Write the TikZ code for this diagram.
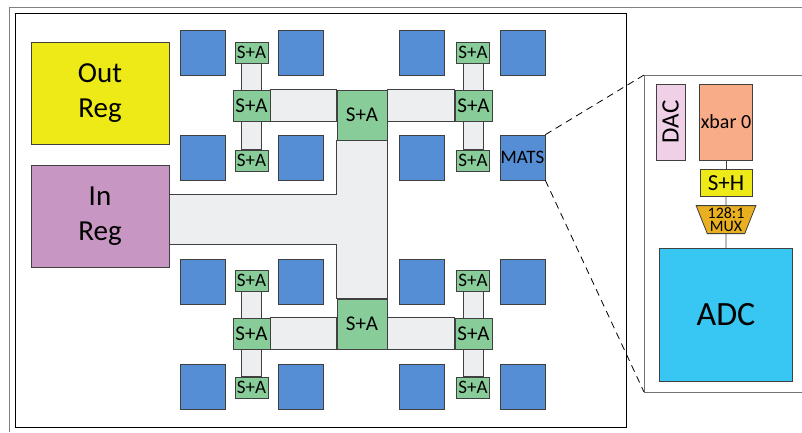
\documentclass[tikz,border=0pt]{standalone}
\usepackage{fontspec}
\setmainfont{Carlito}
\usepackage{tikz}
\usetikzlibrary{positioning, calc, backgrounds, shapes.geometric}
\definecolor{matblue}{RGB}{85,142,213}
\definecolor{sagreen}{RGB}{136,204,153}
\definecolor{busgrey}{RGB}{237,238,240}
\definecolor{regyellow}{RGB}{238,234,24}
\definecolor{regpurple}{RGB}{200,150,195}
\definecolor{dacpink}{RGB}{240,208,230}
\definecolor{xbarsalmon}{RGB}{248,173,136}
\definecolor{muxorange}{RGB}{232,176,32}
\definecolor{adccyan}{RGB}{56,199,242}
\definecolor{edge}{RGB}{64,64,64}

\begin{document}
\begin{tikzpicture}[x=1pt, y=-1pt,
        box/.style={draw=edge, line width=0.8pt, rectangle, inner sep=0pt, align=center},
        mat/.style={box, fill=matblue, minimum width=45pt, minimum height=45pt},
        sasmall/.style={box, fill=sagreen, minimum width=33pt, minimum height=21pt, font=\fontsize{19}{19}\selectfont},
        samid/.style={box, fill=sagreen, minimum width=37pt, minimum height=31pt, font=\fontsize{21}{21}\selectfont},
        sabig/.style={box, fill=sagreen, minimum width=50pt, minimum height=50pt, font=\fontsize{21}{21}\selectfont},
        reg/.style={box, minimum width=138pt, minimum height=102pt, font=\fontsize{29}{35}\selectfont},
        bus/.style={fill=busgrey, draw=edge, line width=0.8pt},
        zoomline/.style={black, line width=0.8pt, dash pattern=on 7pt off 5pt}
    ]
    \useasboundingbox (0,0) rectangle (802,432);

    % tile frame
    \draw[gray, line width=1pt] (802,7.5) -- (9,7.5) -- (9,432);
    \draw[black, line width=0.9pt] (15,13) rectangle (626,427);

    \node[reg, fill=regyellow] (outreg) at (100,93) {Out\\Reg};
    \node[reg, fill=regpurple] (inreg) at (100,216) {In\\Reg};

    % mats
    \node[mat] (m1) at (202.5,52.5) {};
    \node[mat] (m2) at (300.5,52.5) {};
    \node[mat] (m3) at (421.5,52.5) {};
    \node[mat] (m4) at (522.5,52.5) {};
    \node[mat] (m5) at (202.5,157.5) {};
    \node[mat] (m6) at (300.5,157.5) {};
    \node[mat] (m7) at (421.5,157.5) {};
    \node[mat, font=\fontsize{19}{19}\selectfont] (mats) at (522.5,157.5) {MATS};
    \node[mat] (m9) at (202.5,281.5) {};
    \node[mat] (m10) at (300.5,281.5) {};
    \node[mat] (m11) at (421.5,281.5) {};
    \node[mat] (m12) at (522.5,281.5) {};
    \node[mat] (m13) at (202.5,386.5) {};
    \node[mat] (m14) at (300.5,386.5) {};
    \node[mat] (m15) at (421.5,386.5) {};
    \node[mat] (m16) at (522.5,386.5) {};

    % shift and add units
    \node[sasmall] (sa1) at (251.5,52.5) {S+A};
    \node[sasmall] (sa2) at (251.5,160.5) {S+A};
    \node[sasmall] (sa3) at (473,52.5) {S+A};
    \node[sasmall] (sa4) at (473,160.5) {S+A};
    \node[sasmall] (sa5) at (251.5,280.5) {S+A};
    \node[sasmall] (sa6) at (251.5,387.5) {S+A};
    \node[sasmall] (sa7) at (473,280.5) {S+A};
    \node[sasmall] (sa8) at (473,387.5) {S+A};
    \node[samid] (mid1) at (251.5,105.5) {S+A};
    \node[samid] (mid2) at (473.5,105.5) {S+A};
    \node[samid] (mid3) at (251.5,333.5) {S+A};
    \node[samid] (mid4) at (473.5,333.5) {S+A};
    \node[sabig] (big1) at (362,115) {S+A};
    \node[sabig] (big2) at (362,324) {S+A};

    % buses
    \begin{scope}[on background layer]
    \draw[bus] ($(sa1.south)+(-10,0)$) rectangle ($(sa2.north)+(10,0)$);
    \draw[bus] ($(sa3.south)+(-10,0)$) rectangle ($(sa4.north)+(10,0)$);
    \draw[bus] ($(sa5.south)+(-10,0)$) rectangle ($(sa6.north)+(10,0)$);
    \draw[bus] ($(sa7.south)+(-10,0)$) rectangle ($(sa8.north)+(10,0)$);
    \draw[bus] (mid1.north east) rectangle (mid1.south east -| big1.west);
    \draw[bus] (mid2.north west) rectangle (mid2.south west -| big1.east);
    \draw[bus] (mid3.north east) rectangle (mid3.south east -| big2.west);
    \draw[bus] (mid4.north west) rectangle (mid4.south west -| big2.east);
    \draw[bus] (inreg.east |- 0,194) -- (big1.south west |- 0,194) -- (big1.south west)
        -- (big1.south east) -- (big2.north east) -- (big2.north west)
        -- (big2.north west |- 0,244) -- (inreg.east |- 0,244) -- cycle;
    \end{scope}

    % zoomed mat
    \coordinate (pnltop) at (644,75);
    \coordinate (pnlbot) at (644,392);
    \draw[gray!90!black, line width=1pt] (802,75) -- (pnltop) -- (pnlbot) -- (802,392);
    \draw[zoomline] (mats.north east) -- (pnltop);
    \draw[zoomline] (mats.south east) -- (pnlbot);

    \node[box, fill=dacpink, rotate=90, minimum width=76pt, minimum height=29pt, font=\fontsize{25}{25}\selectfont] (dac) at (670.5,122) {DAC};
    \node[box, fill=xbarsalmon, minimum width=53pt, minimum height=76pt, font=\fontsize{20}{20}\selectfont] (xbar) at (726,122) {xbar 0};
    \node[box, fill=regyellow, minimum width=52pt, minimum height=27pt, font=\fontsize{23}{23}\selectfont] (sh) [below=9pt of xbar] {S+H};
    \node[box, trapezium, shape border rotate=180, trapezium left angle=66, trapezium right angle=66, trapezium stretches=true, minimum width=60pt, minimum height=28pt, fill=muxorange, font=\fontsize{16}{13.5}\selectfont] (mux) [below=8pt of sh] {128:1\\MUX};
    \node[box, fill=adccyan, minimum width=133pt, minimum height=133pt, font=\fontsize{34}{34}\selectfont] (adc) [below=14pt of mux] {ADC};

    \draw[edge, line width=0.8pt] (xbar) -- (sh);
    \draw[edge, line width=0.8pt] (sh) -- (mux);
    \draw[edge, line width=0.8pt] (mux) -- (adc);

\end{tikzpicture}
\end{document}
